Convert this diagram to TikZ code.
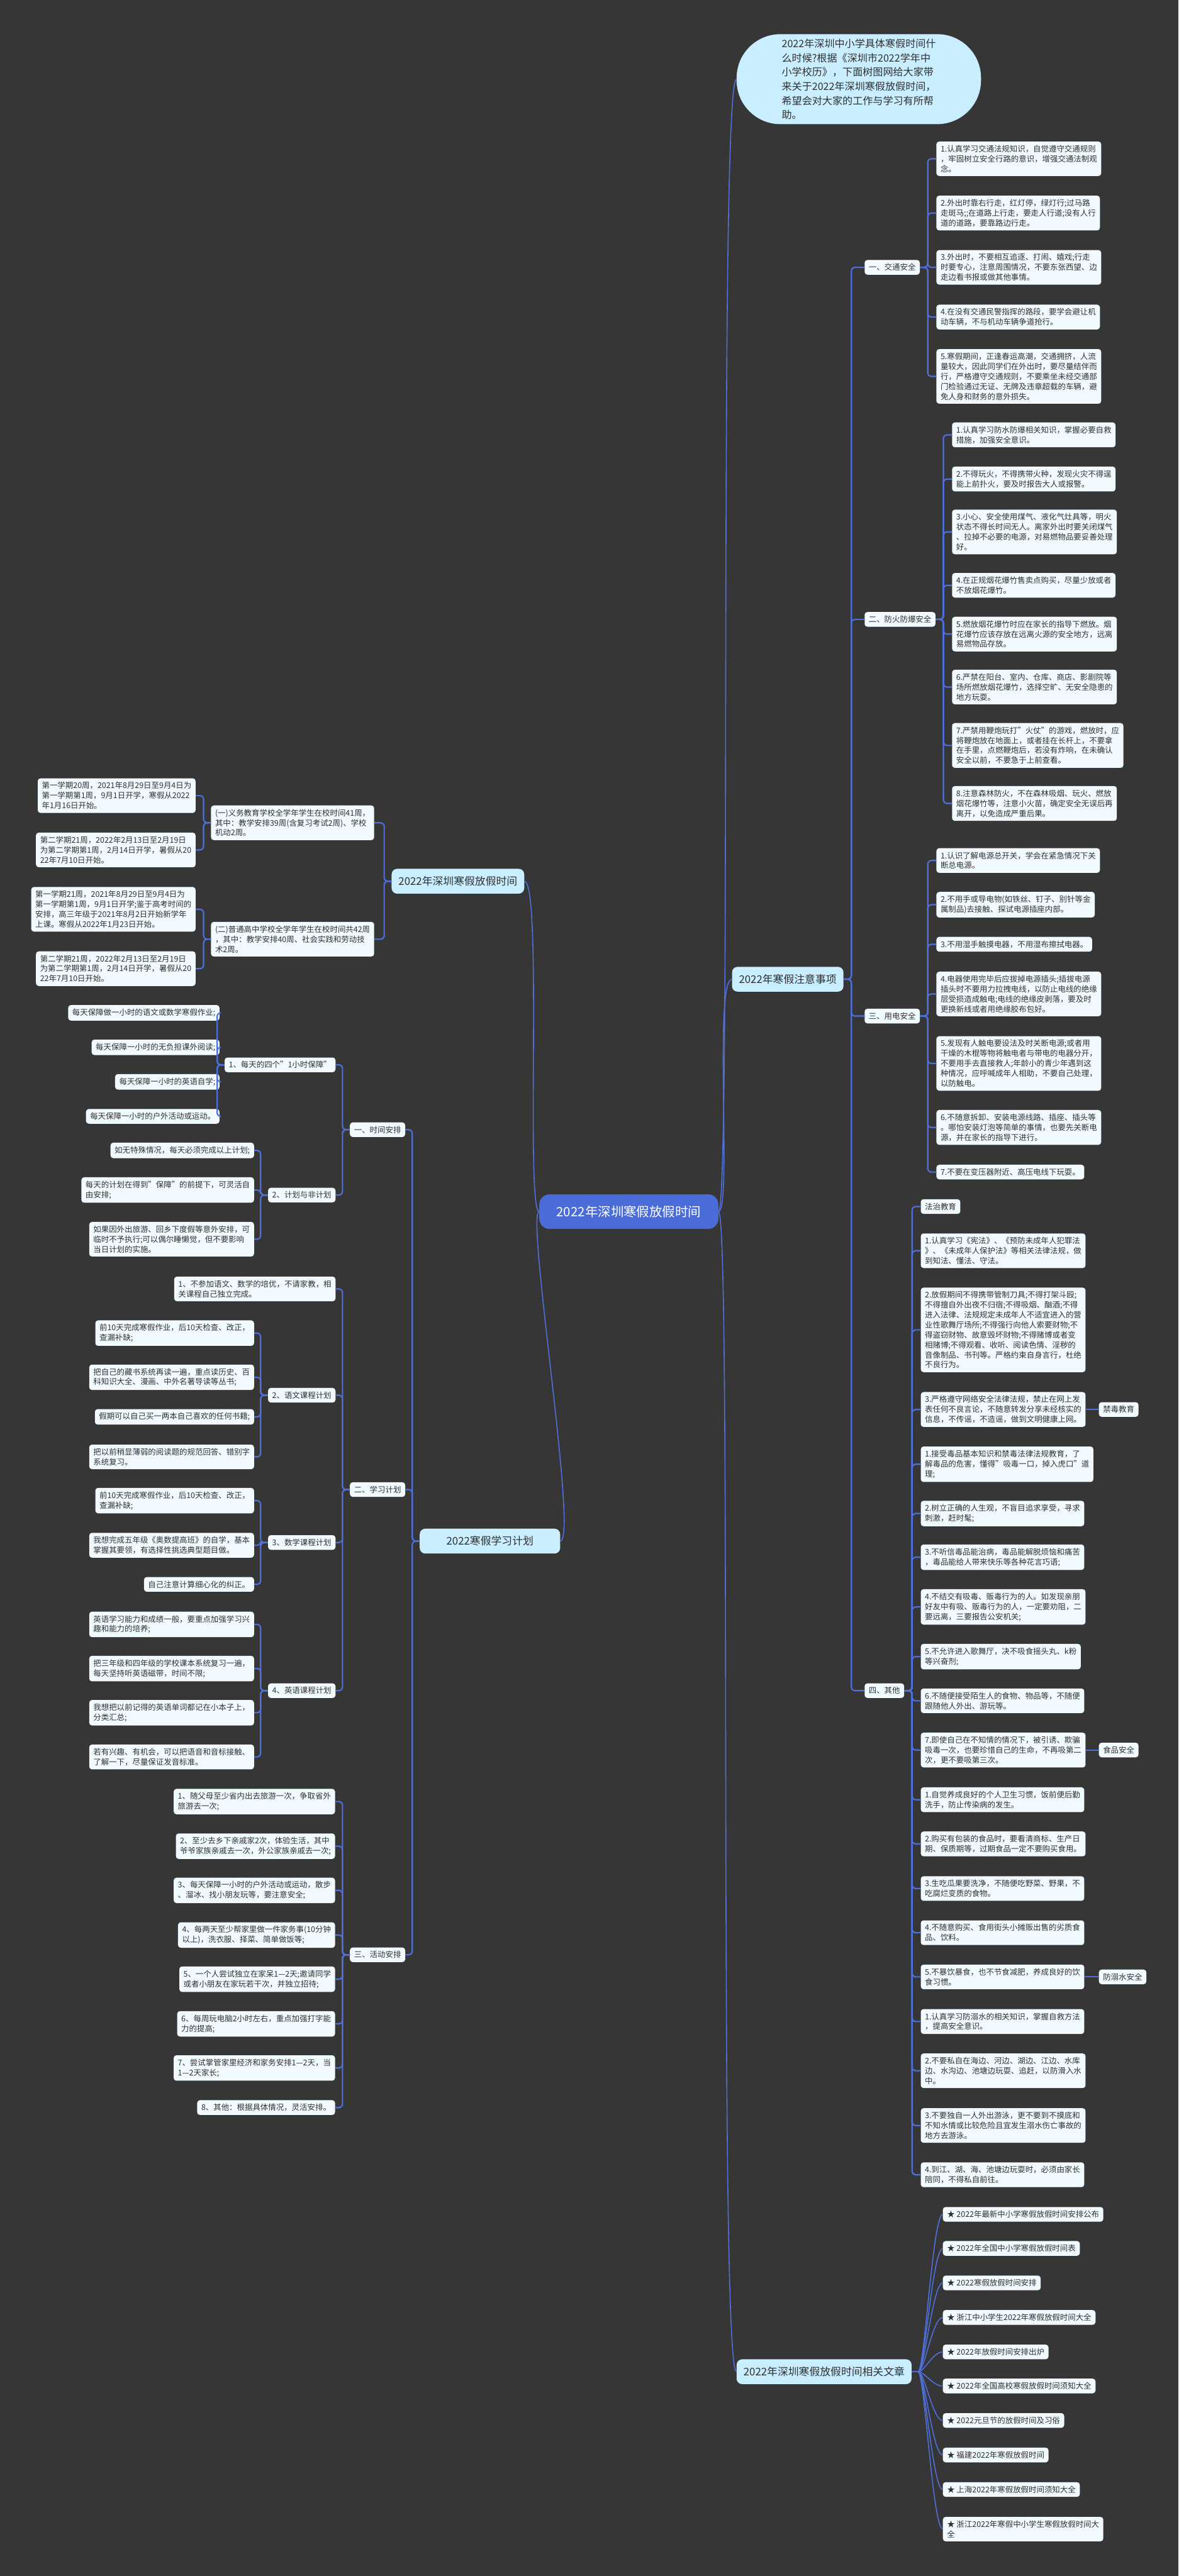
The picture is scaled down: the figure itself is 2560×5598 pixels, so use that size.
\documentclass[tikz,border=0pt]{standalone}
\usepackage{fontspec}
\setmainfont{Noto Sans CJK SC}
\usetikzlibrary{positioning}
\definecolor{bgdark}{HTML}{363636}
\definecolor{leafbg}{HTML}{F1FBFF}
\definecolor{ink}{HTML}{303030}
\definecolor{branchbg}{HTML}{C8EEFF}
\definecolor{rootbg}{HTML}{4A6CD8}
\definecolor{linkblue}{HTML}{4F6FDA}
\tikzset{
  leaf/.style={rectangle,rounded corners=6pt,fill=leafbg,text=ink,align=left,
    inner xsep=9pt,inner ysep=8pt,font=\fontsize{17pt}{21.7pt}\selectfont},
  branch/.style={rectangle,rounded corners=12pt,fill=branchbg,text=ink,
    inner xsep=15pt,minimum height=54pt,font=\fontsize{23pt}{27pt}\selectfont},
  bubble/.style={rectangle,rounded corners=95pt,fill=branchbg,text=ink,align=left,
    inner xsep=98pt,inner ysep=10pt,font=\fontsize{22pt}{31pt}\selectfont},
  root/.style={rectangle,rounded corners=22pt,fill=rootbg,text=white,
    minimum width=389pt,minimum height=75pt,font=\fontsize{28pt}{32pt}\selectfont},
  link/.style={draw=linkblue,line width=3pt,rounded corners=8pt},
  curve/.style={draw=linkblue,line width=2.2pt}
}
\begin{document}
\begin{tikzpicture}[x=1pt,y=-1pt]
\fill[bgdark] (0,0) rectangle (2560,5598);
\useasboundingbox (0,0) rectangle (2560,5598);

\node[root] (holiday) at (1366,2633) {2022年深圳寒假放假时间};

\node[bubble,anchor=west] (intro) at (1600,172) {2022年深圳中小学具体寒假时间什\\么时候?根据《深圳市2022学年中\\小学校历》，下面树图网给大家带\\来关于2022年深圳寒假放假时间，\\希望会对大家的工作与学习有所帮\\助。};
\node[branch,anchor=west] (notes) at (1590,2128) {2022年寒假注意事项};
\node[branch,anchor=west] (related) at (1600,5154) {2022年深圳寒假放假时间相关文章};
\node[branch,anchor=east] (dates) at (1139,1915) {2022年深圳寒假放假时间};
\node[branch,anchor=east,minimum width=305pt] (study) at (1217,3349) {2022寒假学习计划};

\draw[curve] (holiday.east) .. controls +(30,0) and +(-40,0) .. (intro.west);
\draw[curve] (holiday.east) .. controls +(30,0) and +(-40,0) .. (notes.west);
\draw[curve] (holiday.east) .. controls +(30,0) and +(-40,0) .. (related.west);
\draw[curve] (holiday.west) .. controls +(-30,0) and +(40,0) .. (dates.east);
\draw[curve] (holiday.west) .. controls +(-30,0) and +(40,0) .. (study.east);

\node[leaf,anchor=west] (traffic) at (1878,581) {一、交通安全};
\node[leaf,anchor=west] (fire) at (1878,1346) {二、防火防爆安全};
\node[leaf,anchor=west] (power) at (1878,2208) {三、用电安全};
\node[leaf,anchor=west] (misc) at (1878,3674) {四、其他};
\foreach \n in {traffic,fire,power,misc}
  \draw[link] (notes.east) -- ++(17,0) |- (\n.west);

\node[leaf,anchor=west] (t1) at (2034,345) {1.认真学习交通法规知识，自觉遵守交通规则\\，牢固树立安全行路的意识，增强交通法制观\\念。};
\node[leaf,anchor=west] (t2) at (2034,463) {2.外出时靠右行走，红灯停，绿灯行;过马路\\走斑马;;在道路上行走，要走人行道;没有人行\\道的道路，要靠路边行走。};
\node[leaf,anchor=west] (t3) at (2034,581) {3.外出时，不要相互追逐、打闹、嬉戏;行走\\时要专心，注意周围情况，不要东张西望、边\\走边看书报或做其他事情。};
\node[leaf,anchor=west] (t4) at (2034,689) {4.在没有交通民警指挥的路段，要学会避让机\\动车辆，不与机动车辆争道抢行。};
\node[leaf,anchor=west] (t5) at (2034,818) {5.寒假期间，正逢春运高潮，交通拥挤，人流\\量较大，因此同学们在外出时，要尽量结伴而\\行，严格遵守交通规则，不要乘坐未经交通部\\门检验通过无证、无牌及违章超载的车辆，避\\免人身和财务的意外损失。};
\foreach \n in {t1,t2,t3,t4,t5}
  \draw[link] (traffic.east) -- ++(17,0) |- (\n.west);

\node[leaf,anchor=west] (f1) at (2068,945) {1.认真学习防水防爆相关知识，掌握必要自救\\措施，加强安全意识。};
\node[leaf,anchor=west] (f2) at (2068,1041) {2.不得玩火，不得携带火种，发现火灾不得逞\\能上前扑火，要及时报告大人或报警。};
\node[leaf,anchor=west] (f3) at (2068,1156) {3.小心、安全使用煤气、液化气灶具等，明火\\状态不得长时间无人。离家外出时要关闭煤气\\、拉掉不必要的电源，对易燃物品要妥善处理\\好。};
\node[leaf,anchor=west] (f4) at (2068,1272) {4.在正规烟花爆竹售卖点购买，尽量少放或者\\不放烟花爆竹。};
\node[leaf,anchor=west] (f5) at (2068,1378) {5.燃放烟花爆竹时应在家长的指导下燃放。烟\\花爆竹应该存放在远离火源的安全地方，远离\\易燃物品存放。};
\node[leaf,anchor=west] (f6) at (2068,1493) {6.严禁在阳台、室内、仓库、商店、影剧院等\\场所燃放烟花爆竹，选择空旷、无安全隐患的\\地方玩耍。};
\node[leaf,anchor=west] (f7) at (2068,1620) {7.严禁用鞭炮玩打"火仗"的游戏，燃放时，应\\将鞭炮放在地面上，或者挂在长杆上，不要拿\\在手里，点燃鞭炮后，若没有炸响，在未确认\\安全以前，不要急于上前查看。};
\node[leaf,anchor=west] (f8) at (2068,1746) {8.注意森林防火，不在森林吸烟、玩火、燃放\\烟花爆竹等，注意小火苗，确定安全无误后再\\离开，以免造成严重后果。};
\foreach \n in {f1,f2,f3,f4,f5,f6,f7,f8}
  \draw[link] (fire.east) -- ++(17,0) |- (\n.west);

\node[leaf,anchor=west] (p1) at (2034,1870) {1.认识了解电源总开关，学会在紧急情况下关\\断总电源。};
\node[leaf,anchor=west] (p2) at (2034,1966) {2.不用手或导电物(如铁丝、钉子、别针等金\\属制品)去接触、探试电源插座内部。};
\node[leaf,anchor=west] (p3) at (2034,2052) {3.不用湿手触摸电器，不用湿布擦拭电器。};
\node[leaf,anchor=west] (p4) at (2034,2160) {4.电器使用完毕后应拔掉电源插头;插拔电源\\插头时不要用力拉拽电线，以防止电线的绝缘\\层受损造成触电;电线的绝缘皮剥落，要及时\\更换新线或者用绝缘胶布包好。};
\node[leaf,anchor=west] (p5) at (2034,2311) {5.发现有人触电要设法及时关断电源;或者用\\干燥的木棍等物将触电者与带电的电器分开，\\不要用手去直接救人;年龄小的青少年遇到这\\种情况，应呼喊成年人相助，不要自己处理，\\以防触电。};
\node[leaf,anchor=west] (p6) at (2034,2450) {6.不随意拆卸、安装电源线路、插座、插头等\\。哪怕安装灯泡等简单的事情，也要先关断电\\源，并在家长的指导下进行。};
\node[leaf,anchor=west] (p7) at (2034,2547) {7.不要在变压器附近、高压电线下玩耍。};
\foreach \n in {p1,p2,p3,p4,p5,p6,p7}
  \draw[link] (power.east) -- ++(17,0) |- (\n.west);

\node[leaf,anchor=west] (o0) at (2000,2622) {法治教育};
\node[leaf,anchor=west] (o1) at (2000,2718) {1.认真学习《宪法》、《预防未成年人犯罪法\\》、《未成年人保护法》等相关法律法规，做\\到知法、懂法、守法。};
\node[leaf,anchor=west] (o2) at (2000,2890) {2.放假期间不得携带管制刀具;不得打架斗殴;\\不得擅自外出夜不归宿;不得吸烟、酗酒;不得\\进入法律、法规规定未成年人不适宜进入的营\\业性歌舞厅场所;不得强行向他人索要财物;不\\得盗窃财物、故意毁坏财物;不得赌博或者变\\相赌博;不得观看、收听、阅读色情、淫秽的\\音像制品、书刊等。严格约束自身言行，杜绝\\不良行为。};
\node[leaf,anchor=west] (o3) at (2000,3063) {3.严格遵守网络安全法律法规，禁止在网上发\\表任何不良言论，不随意转发分享未经核实的\\信息，不传谣，不造谣，做到文明健康上网。};
\node[leaf,anchor=west] (o4) at (2000,3182) {1.接受毒品基本知识和禁毒法律法规教育，了\\解毒品的危害，懂得"吸毒一口，掉入虎口"道\\理;};
\node[leaf,anchor=west] (o5) at (2000,3289) {2.树立正确的人生观，不盲目追求享受，寻求\\刺激，赶时髦;};
\node[leaf,anchor=west] (o6) at (2000,3384) {3.不听信毒品能治病，毒品能解脱烦恼和痛苦\\，毒品能给人带来快乐等各种花言巧语;};
\node[leaf,anchor=west] (o7) at (2000,3492) {4.不结交有吸毒、贩毒行为的人。如发现亲朋\\好友中有吸、贩毒行为的人，一定要劝阻，二\\要远离，三要报告公安机关;};
\node[leaf,anchor=west] (o8) at (2000,3600) {5.不允许进入歌舞厅，决不吸食摇头丸、k粉\\等兴奋剂;};
\node[leaf,anchor=west] (o9) at (2000,3696) {6.不随便接受陌生人的食物、物品等，不随便\\跟随他人外出、游玩等。};
\node[leaf,anchor=west] (o10) at (2000,3803) {7.即使自己在不知情的情况下，被引诱、欺骗\\吸毒一次，也要珍惜自己的生命，不再吸第二\\次，更不要吸第三次。};
\node[leaf,anchor=west] (o11) at (2000,3911) {1.自觉养成良好的个人卫生习惯，饭前便后勤\\洗手，防止传染病的发生。};
\node[leaf,anchor=west] (o12) at (2000,4007) {2.购买有包装的食品时，要看清商标、生产日\\期、保质期等，过期食品一定不要购买食用。};
\node[leaf,anchor=west] (o13) at (2000,4104) {3.生吃瓜果要洗净，不随便吃野菜、野果，不\\吃腐烂变质的食物。};
\node[leaf,anchor=west] (o14) at (2000,4200) {4.不随意购买、食用街头小摊贩出售的劣质食\\品、饮料。};
\node[leaf,anchor=west] (o15) at (2000,4296) {5.不暴饮暴食，也不节食减肥，养成良好的饮\\食习惯。};
\node[leaf,anchor=west] (o16) at (2000,4393) {1.认真学习防溺水的相关知识，掌握自救方法\\，提高安全意识。};
\node[leaf,anchor=west] (o17) at (2000,4500) {2.不要私自在海边、河边、湖边、江边、水库\\边、水沟边、池塘边玩耍、追赶，以防滑入水\\中。};
\node[leaf,anchor=west] (o18) at (2000,4619) {3.不要独自一人外出游泳，更不要到不摸底和\\不知水情或比较危险且宜发生溺水伤亡事故的\\地方去游泳。};
\node[leaf,anchor=west] (o19) at (2000,4726) {4.到江、湖、海、池塘边玩耍时，必须由家长\\陪同，不得私自前往。};
\foreach \n in {o0,o1,o2,o3,o4,o5,o6,o7,o8,o9,o10,o11,o12,o13,o14,o15,o16,o17,o18,o19}
  \draw[link] (misc.east) -- ++(17,0) |- (\n.west);
\node[leaf,anchor=west] (drugs) at (2387,3063) {禁毒教育};
\node[leaf,anchor=west] (food) at (2387,3803) {食品安全};
\node[leaf,anchor=west] (water) at (2387,4296) {防溺水安全};
\draw[link] (o3.east) -- (drugs.west);
\draw[link] (o10.east) -- (food.west);
\draw[link] (o15.east) -- (water.west);

\node[leaf,anchor=west] (r1) at (2048,4812) {★ 2022年最新中小学寒假放假时间安排公布};
\node[leaf,anchor=west] (r2) at (2048,4886) {★ 2022年全国中小学寒假放假时间表};
\node[leaf,anchor=west] (r3) at (2048,4961) {★ 2022寒假放假时间安排};
\node[leaf,anchor=west] (r4) at (2048,5036) {★ 浙江中小学生2022年寒假放假时间大全};
\node[leaf,anchor=west] (r5) at (2048,5111) {★ 2022年放假时间安排出炉};
\node[leaf,anchor=west] (r6) at (2048,5185) {★ 2022年全国高校寒假放假时间须知大全};
\node[leaf,anchor=west] (r7) at (2048,5260) {★ 2022元旦节的放假时间及习俗};
\node[leaf,anchor=west] (r8) at (2048,5335) {★ 福建2022年寒假放假时间};
\node[leaf,anchor=west] (r9) at (2048,5410) {★ 上海2022年寒假放假时间须知大全};
\node[leaf,anchor=west] (r10) at (2048,5496) {★ 浙江2022年寒假中小学生寒假放假时间大\\全};
\foreach \n in {r1,r2,r3,r4,r5,r6,r7,r8,r9,r10}
  \draw[curve] (related.east) -- ++(14,0) .. controls +(14,0) and +(-22,0) .. (\n.west);

\node[leaf,anchor=east] (k1) at (813,1788) {(一)义务教育学校全学年学生在校时间41周，\\其中：教学安排39周(含复习考试2周)、学校\\机动2周。};
\node[leaf,anchor=east] (k2) at (813,2041) {(二)普通高中学校全学年学生在校时间共42周\\，其中：教学安排40周、社会实践和劳动技\\术2周。};
\foreach \n in {k1,k2}
  \draw[link] (dates.west) -- ++(-16,0) |- (\n.east);
\node[leaf,anchor=east] (d1) at (425,1729) {第一学期20周，2021年8月29日至9月4日为\\第一学期第1周，9月1日开学，寒假从2022\\年1月16日开始。};
\node[leaf,anchor=east] (d2) at (425,1847) {第二学期21周，2022年2月13日至2月19日\\为第二学期第1周，2月14日开学，暑假从20\\22年7月10日开始。};
\node[leaf,anchor=east] (d3) at (425,1976) {第一学期21周，2021年8月29日至9月4日为\\第一学期第1周，9月1日开学;鉴于高考时间的\\安排，高三年级于2021年8月2日开始新学年\\上课。寒假从2022年1月23日开始。};
\node[leaf,anchor=east] (d4) at (425,2105) {第二学期21周，2022年2月13日至2月19日\\为第二学期第1周，2月14日开学，暑假从20\\22年7月10日开始。};
\foreach \n in {d1,d2}
  \draw[link] (k1.west) -- ++(-16,0) |- (\n.east);
\foreach \n in {d3,d4}
  \draw[link] (k2.west) -- ++(-16,0) |- (\n.east);

\node[leaf,anchor=west] (time) at (760,2455) {一、时间安排};
\node[leaf,anchor=west] (learn) at (760,3237) {二、学习计划};
\node[leaf,anchor=west] (act) at (760,4248) {三、活动安排};
\foreach \n in {time,learn,act}
  \draw[link] (study.west) -- ++(-16,0) |- (\n.east);

\node[leaf,anchor=east] (every) at (729,2314) {1、每天的四个"1小时保障"};
\node[leaf,anchor=east] (plan) at (729,2597) {2、计划与非计划};
\foreach \n in {every,plan}
  \draw[link] (time.west) -- ++(-16,0) |- (\n.east);
\node[leaf,anchor=east] (a1) at (477,2201) {每天保障做一小时的语文或数学寒假作业;};
\node[leaf,anchor=east] (a2) at (477,2276) {每天保障一小时的无负担课外阅读;};
\node[leaf,anchor=east] (a3) at (477,2351) {每天保障一小时的英语自学;};
\node[leaf,anchor=east] (a4) at (477,2426) {每天保障一小时的户外活动或运动。};
\foreach \n in {a1,a2,a3,a4}
  \draw[link] (every.west) -- ++(-16,0) |- (\n.east);
\node[leaf,anchor=east] (b1) at (552,2500) {如无特殊情况，每天必须完成以上计划;};
\node[leaf,anchor=east] (b2) at (552,2586) {每天的计划在得到"保障"的前提下，可灵活自\\由安排;};
\node[leaf,anchor=east] (b3) at (552,2693) {如果因外出旅游、回乡下度假等意外安排，可\\临时不予执行;可以偶尔睡懒觉，但不要影响\\当日计划的实施。};
\foreach \n in {b1,b2,b3}
  \draw[link] (plan.west) -- ++(-16,0) |- (\n.east);

\node[leaf,anchor=east] (s1) at (729,2801) {1、不参加语文、数学的培优，不请家教，相\\关课程自己独立完成。};
\node[leaf,anchor=east] (chn) at (729,3032) {2、语文课程计划};
\node[leaf,anchor=east] (math) at (729,3352) {3、数学课程计划};
\node[leaf,anchor=east] (eng) at (729,3674) {4、英语课程计划};
\foreach \n in {s1,chn,math,eng}
  \draw[link] (learn.west) -- ++(-16,0) |- (\n.east);
\node[leaf,anchor=east] (c1) at (552,2897) {前10天完成寒假作业，后10天检查、改正，\\查漏补缺;};
\node[leaf,anchor=east] (c2) at (552,2993) {把自己的藏书系统再读一遍，重点读历史、百\\科知识大全、漫画、中外名著导读等丛书;};
\node[leaf,anchor=east] (c3) at (552,3079) {假期可以自己买一两本自己喜欢的任何书籍;};
\node[leaf,anchor=east] (c4) at (552,3166) {把以前稍显薄弱的阅读题的规范回答、错别字\\系统复习。};
\foreach \n in {c1,c2,c3,c4}
  \draw[link] (chn.west) -- ++(-16,0) |- (\n.east);
\node[leaf,anchor=east] (m1) at (552,3261) {前10天完成寒假作业，后10天检查、改正，\\查漏补缺;};
\node[leaf,anchor=east] (m2) at (552,3358) {我想完成五年级《奥数提高班》的自学，基本\\掌握其要领，有选择性挑选典型题目做。};
\node[leaf,anchor=east] (m3) at (552,3443) {自己注意计算细心化的纠正。};
\foreach \n in {m1,m2,m3}
  \draw[link] (math.west) -- ++(-16,0) |- (\n.east);
\node[leaf,anchor=east] (n1) at (552,3530) {英语学习能力和成绩一般，要重点加强学习兴\\趣和能力的培养;};
\node[leaf,anchor=east] (n2) at (552,3626) {把三年级和四年级的学校课本系统复习一遍，\\每天坚持听英语磁带，时间不限;};
\node[leaf,anchor=east] (n3) at (552,3722) {我想把以前记得的英语单词都记在小本子上，\\分类汇总;};
\node[leaf,anchor=east] (n4) at (552,3818) {若有兴趣、有机会，可以把语音和音标接触、\\了解一下，尽量保证发音标准。};
\foreach \n in {n1,n2,n3,n4}
  \draw[link] (eng.west) -- ++(-16,0) |- (\n.east);

\node[leaf,anchor=east] (v1) at (728,3915) {1、随父母至少省内出去旅游一次，争取省外\\旅游去一次;};
\node[leaf,anchor=east] (v2) at (728,4012) {2、至少去乡下亲戚家2次，体验生活，其中\\爷爷家族亲戚去一次，外公家族亲戚去一次;};
\node[leaf,anchor=east] (v3) at (728,4108) {3、每天保障一小时的户外活动或运动，散步\\、溜冰、找小朋友玩等，要注意安全;};
\node[leaf,anchor=east] (v4) at (728,4205) {4、每两天至少帮家里做一件家务事(10分钟\\以上)，洗衣服、择菜、简单做饭等;};
\node[leaf,anchor=east] (v5) at (728,4301) {5、一个人尝试独立在家呆1—2天;邀请同学\\或者小朋友在家玩若干次，并独立招待;};
\node[leaf,anchor=east] (v6) at (728,4398) {6、每周玩电脑2小时左右，重点加强打字能\\力的提高;};
\node[leaf,anchor=east] (v7) at (728,4494) {7、尝试掌管家里经济和家务安排1—2天，当\\1—2天家长;};
\node[leaf,anchor=east] (v8) at (728,4580) {8、其他：根据具体情况，灵活安排。};
\foreach \n in {v1,v2,v3,v4,v5,v6,v7,v8}
  \draw[link] (act.west) -- ++(-16,0) |- (\n.east);
\end{tikzpicture}
\end{document}
